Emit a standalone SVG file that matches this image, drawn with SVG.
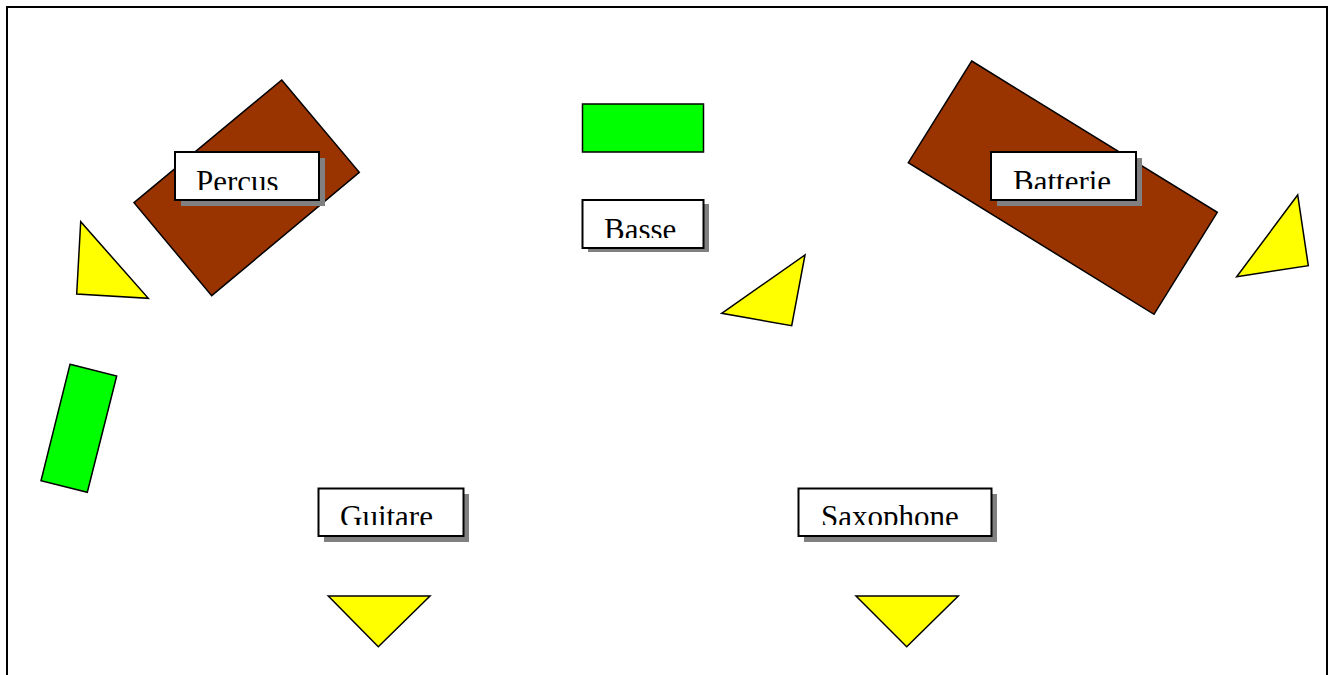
<svg xmlns="http://www.w3.org/2000/svg" width="1332" height="675" viewBox="0 0 1332 675">
<defs>
<style>
.brown{fill:#993300;stroke:#000;stroke-width:1.5;stroke-linejoin:miter}
.green{fill:#00FF00;stroke:#000;stroke-width:1.5}
.yellow{fill:#FFFF00;stroke:#000;stroke-width:1.5;stroke-linejoin:miter}
.shadow{fill:#808080}
.box{fill:#fff;stroke:#000;stroke-width:2}
.lbl{font-family:"Liberation Serif","Times New Roman",serif;font-size:31px;fill:#000}
.frame{fill:none;stroke:#000;stroke-width:2}
</style>
<clipPath id="cPercus"><rect x="176" y="153" width="142" height="37"/></clipPath>
<clipPath id="cBasse"><rect x="583" y="201" width="119" height="37"/></clipPath>
<clipPath id="cBatterie"><rect x="992" y="153" width="143" height="36"/></clipPath>
<clipPath id="cGuitare"><rect x="319" y="489" width="143" height="36"/></clipPath>
<clipPath id="cSaxophone"><rect x="799" y="489" width="192" height="36"/></clipPath>
</defs>
<rect width="1332" height="675" fill="#fff"/>
<path class="frame" d="M7,677 V7 H1327 V677"/>

<g id="percus-kit">
<polygon class="brown" points="281.7,80 359.3,172.3 211.7,295.7 134,202.7"/>
</g>
<g id="batterie-kit">
<polygon class="brown" points="971.7,61 1217.3,212.3 1154,314.3 908.3,162.7"/>
</g>
<g id="basse-amp">
<rect class="green" x="582.5" y="104" width="121" height="48"/>
</g>
<g id="left-amp">
<polygon class="green" points="70,364.3 116.7,376 87.3,492.3 41,480.7"/>
</g>

<g id="monitor-left">
<polygon class="yellow" points="80.7,221.7 76.7,294 148.3,298.3"/>
</g>
<g id="monitor-center">
<polygon class="yellow" points="721.7,313.3 805,255 791.7,325.7"/>
</g>
<g id="monitor-right">
<polygon class="yellow" points="1236.7,276.7 1297.7,195 1308.3,265.7"/>
</g>
<g id="monitor-guitare">
<polygon class="yellow" points="328.3,596 430,596 378.3,646.7"/>
</g>
<g id="monitor-saxophone">
<polygon class="yellow" points="856,596 958.3,596 906.7,646.7"/>
</g>

<g id="label-percus">
<rect class="shadow" x="181" y="158" width="144" height="48"/>
<rect class="box" x="175" y="152" width="144" height="48"/>
<text class="lbl" x="196" y="192" clip-path="url(#cPercus)">Percus</text>
</g>
<g id="label-basse">
<rect class="shadow" x="588" y="204" width="121" height="48"/>
<rect class="box" x="582.5" y="200" width="121" height="48"/>
<text class="lbl" x="604" y="240" clip-path="url(#cBasse)">Basse</text>
</g>
<g id="label-batterie">
<rect class="shadow" x="997" y="158" width="145" height="48"/>
<rect class="box" x="991" y="152" width="145" height="48"/>
<text class="lbl" x="1013" y="192" clip-path="url(#cBatterie)">Batterie</text>
</g>
<g id="label-guitare">
<rect class="shadow" x="324" y="494" width="145" height="48"/>
<rect class="box" x="318.5" y="488.5" width="145" height="47.5"/>
<text class="lbl" x="340" y="527" clip-path="url(#cGuitare)">Guitare</text>
</g>
<g id="label-saxophone">
<rect class="shadow" x="804" y="494" width="193" height="48"/>
<rect class="box" x="798.5" y="488.5" width="193" height="47.5"/>
<text class="lbl" x="821" y="527" clip-path="url(#cSaxophone)">Saxophone</text>
</g>
<g id="connectors"/>
</svg>
